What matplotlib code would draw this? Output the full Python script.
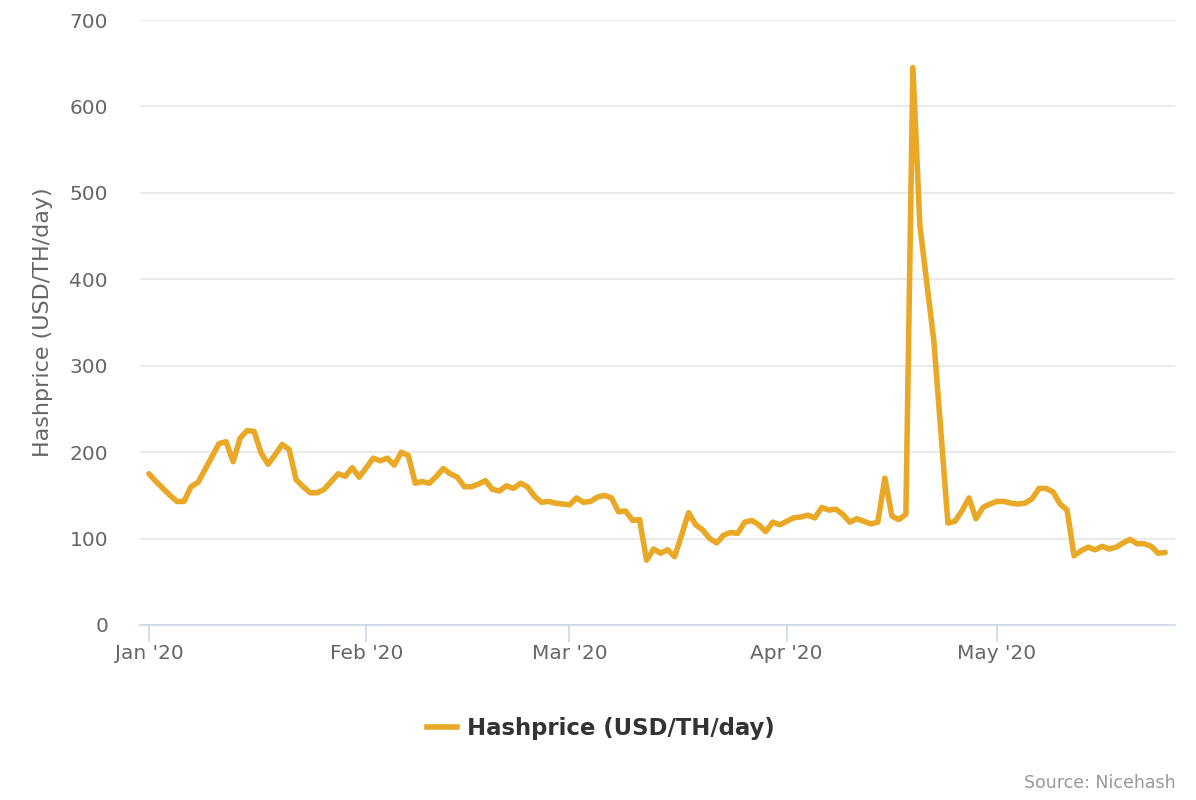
import matplotlib
matplotlib.use("Agg")
import matplotlib.pyplot as plt
import matplotlib.dates as mdates
import pandas as pd
from matplotlib.lines import Line2D

plt.rcParams['font.family'] = ['DejaVu Sans']

start_date = "2020-01-01"
hashprice = [
    175, 166, 158, 150, 143, 143, 160, 165, 180, 195,
    210, 212, 189, 216, 225, 224, 199, 186, 197, 209,
    203, 168, 160, 153, 153, 157, 166, 175, 172, 182,
    171, 182, 193, 190, 193, 185, 200, 196, 164, 166,
    164, 172, 181, 175, 171, 160, 160, 163, 167, 157,
    155, 161, 158, 164, 160, 149, 142, 143, 141, 140,
    139, 147, 142, 143, 148, 150, 147, 131, 132, 121,
    122, 75, 88, 83, 87, 79, 104, 130, 116, 110,
    100, 95, 104, 107, 106, 119, 121, 116, 108, 119,
    116, 120, 124, 125, 127, 124, 136, 133, 134, 128,
    119, 123, 120, 117, 119, 170, 126, 122, 128, 645,
    462, 395, 328, 223, 118, 120, 132, 147, 123, 136,
    140, 143, 143, 141, 140, 141, 146, 158, 158, 154,
    140, 133, 80, 86, 90, 87, 91, 88, 90, 95,
    99, 94, 94, 91, 83, 84,
]
series_name = "Hashprice (USD/TH/day)"
y_label = "Hashprice (USD/TH/day)"
y_ticks = [0, 100, 200, 300, 400, 500, 600, 700]
source_text = "Source: Nicehash"

dates = pd.date_range(start_date, periods=len(hashprice), freq="D")

W, H = 1196, 800
fig = plt.figure(figsize=(W / 100, H / 100), dpi=100)
left, right, top, bottom = 140, 1175, 20, 625
ax = fig.add_axes([left / W, 1 - bottom / H, (right - left) / W, (bottom - top) / H])

line_color = "#e9a825"
ax.plot(dates, hashprice, color=line_color, lw=4.0, solid_joinstyle="round", solid_capstyle="round", zorder=3)

t0 = pd.Timestamp(start_date)
ax.set_xlim(t0 - pd.Timedelta(days=1.28), t0 + pd.Timedelta(days=146.4))
ax.set_ylim(0, 700)
ax.set_yticks(y_ticks)
ax.yaxis.grid(True, color="#e6e6e6", lw=1.2)
ax.set_axisbelow(True)

ax.xaxis.set_major_locator(mdates.MonthLocator())
ax.xaxis.set_major_formatter(mdates.DateFormatter("%b '%y"))

for s in ["top", "right", "left"]:
    ax.spines[s].set_visible(False)
ax.spines["bottom"].set_color("#ccd6eb")
ax.spines["bottom"].set_linewidth(1.2)

ax.tick_params(axis="y", length=0, pad=23, labelsize=14.5, labelcolor="#666666")
ax.tick_params(axis="x", length=12, width=1.2, color="#ccd6eb", pad=2, labelsize=14.5, labelcolor="#666666")

ax.set_ylabel(y_label, fontsize=16, color="#666666")
ax.yaxis.set_label_coords(-0.084, 0.5)

handle = Line2D([0], [0], color=line_color, lw=4)
fig.legend([handle], [series_name], loc="center", bbox_to_anchor=(601 / W, 1 - 728 / H),
           frameon=False, handlelength=1.3, handletextpad=0.45,
           prop={"weight": "bold", "size": 16.4}, labelcolor="#333333")

fig.text(1176 / W, 1 - 783 / H, source_text, ha="right", va="center", color="#999999", fontsize=12.5)

fig.savefig("out.png", dpi=100)
